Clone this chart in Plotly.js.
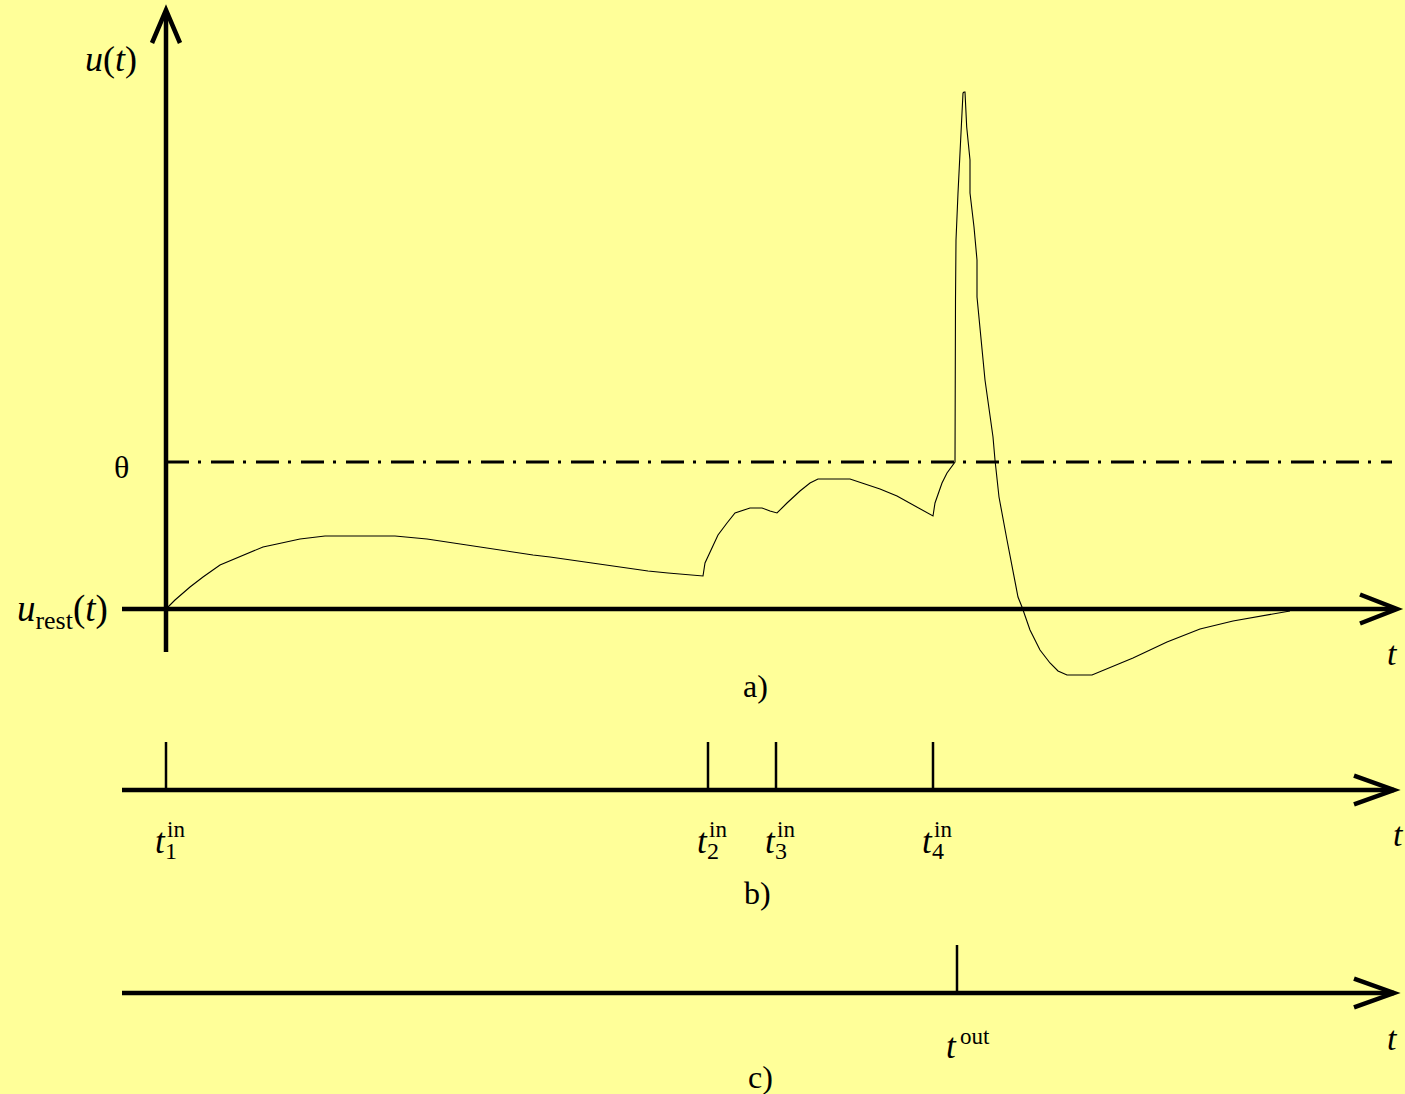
<!DOCTYPE html>
<html>
<head>
<meta charset="utf-8">
<script src="https://cdn.plot.ly/plotly-3.0.1.min.js"></script>
<style>html,body{margin:0;padding:0;background:#FFFF99;overflow:hidden;}</style>
</head>
<body>
<div id="chart" style="width:1405px;height:1094px;"></div>
<script>
// ---- data (time in ms after first input spike, potential relative to rest) ----
const traceT = [0, 0.9, 2.4, 3.7, 5.4, 7.1, 8.4, 9.7, 11.1, 13.4, 15.9, 22.9, 26.1, 28.7, 30.7, 32.9, 34.7, 36.7, 38.4, 40.4, 42.4, 44.2, 46.2, 48.2, 50.2, 52.4, 53.7,
  53.9, 54.6, 55.2, 56.1, 56.9, 58.4, 59.6, 60.4, 61.1, 62.1, 63.4, 64.4, 65.2, 68.4, 69.7, 71.4, 73.1, 74.7, 76.1, 76.7,
  76.9, 77.6, 78.1, 78.9, 78.95, 79.0, 79.2, 79.5, 79.7, 79.8, 79.9, 80.07, 80.4, 80.4, 80.8, 81.1, 81.1, 81.9, 82.7, 82.9, 83.3, 84.1, 84.6, 85.2, 85.6,
  86.4, 87.4, 88.4, 89.2, 90.1, 92.6, 96.7, 100.1, 103.4, 106.7, 110.1, 112.4];
const traceU = [0, 0.9, 2.2, 3.2, 4.4, 5.1, 5.6, 6.2, 6.5, 7.0, 7.3, 7.3, 7.0, 6.6, 6.3, 6.0, 5.7, 5.4, 5.2, 4.9, 4.6, 4.4, 4.1, 3.8, 3.6, 3.4, 3.3,
  4.6, 6.1, 7.4, 8.6, 9.6, 10.1, 10.1, 9.8, 9.6, 10.6, 11.8, 12.6, 13.0, 13.0, 12.6, 12.0, 11.3, 10.4, 9.6, 9.3,
  10.6, 12.6, 13.6, 14.7, 30.9, 36.9, 41.6, 48.2, 51.6, 51.7, 51.7, 48.2, 44.9, 41.6, 38.2, 34.9, 31.2, 22.9, 17.2, 14.9, 11.2, 6.9, 4.2, 1.2, 0.2,
  -2.1, -4.1, -5.4, -6.2, -6.6, -6.6, -4.9, -3.3, -2.0, -1.2, -0.6, -0.2];
const theta = 14.7;
const inputSpikes = [0, 54.2, 61.0, 76.7];
const inputIndex = ['1', '2', '3', '4'];
const outputSpikes = [79.1];

// ---- geometry helpers (page pixels -> paper) ----
const W = 1405, H = 1094;
const PX = x => x / W;
const PY = y => 1 - y / H;
const FONT = 'Liberation Serif, DejaVu Serif, serif';
const BLACK = '#000000';

function spikeXY(times) {
  const x = [], y = [];
  times.forEach(t => { x.push(t, t, null); y.push(0, 1, null); });
  return {x, y};
}

const sIn = spikeXY(inputSpikes);
const sOut = spikeXY(outputSpikes);

const traces = [
  {x: traceT, y: traceU, type: 'scatter', mode: 'lines', xaxis: 'x', yaxis: 'y',
   line: {color: BLACK, width: 1.1}, hoverinfo: 'skip', showlegend: false},
  {x: [0, 122.6], y: [theta, theta], type: 'scatter', mode: 'lines', xaxis: 'x', yaxis: 'y',
   line: {color: BLACK, width: 3, dash: '23px,9px,3px,10px'}, hoverinfo: 'skip', showlegend: false},
  {x: sIn.x, y: sIn.y, type: 'scatter', mode: 'lines', xaxis: 'x', yaxis: 'y2',
   line: {color: BLACK, width: 2.5}, hoverinfo: 'skip', showlegend: false},
  {x: sOut.x, y: sOut.y, type: 'scatter', mode: 'lines', xaxis: 'x', yaxis: 'y3',
   line: {color: BLACK, width: 2.5}, hoverinfo: 'skip', showlegend: false}
];

// axis lines and open arrowheads
const axW = 4.5;
const shapes = [
  {type: 'line', xref: 'x', yref: 'y', x0: -4.4, x1: 123.0, y0: 0, y1: 0, line: {color: BLACK, width: axW}},
  {type: 'path', xref: 'x', yref: 'y', path: 'M119.4,1.45 L123.1,0 L119.4,-1.45', line: {color: BLACK, width: axW}},
  {type: 'line', xref: 'x', yref: 'y', x0: 0, x1: 0, y0: -4.3, y1: 59.8, line: {color: BLACK, width: axW}},
  {type: 'path', xref: 'x', yref: 'y', path: 'M-1.4,56.6 L0,59.9 L1.4,56.6', line: {color: BLACK, width: axW}},
  {type: 'line', xref: 'x', yref: 'y2', x0: -4.4, x1: 122.8, y0: 0, y1: 0, line: {color: BLACK, width: axW}},
  {type: 'path', xref: 'x', yref: 'y2', path: 'M118.8,0.3 L122.8,0 L118.8,-0.3', line: {color: BLACK, width: axW}},
  {type: 'line', xref: 'x', yref: 'y3', x0: -4.4, x1: 122.8, y0: 0, y1: 0, line: {color: BLACK, width: axW}},
  {type: 'path', xref: 'x', yref: 'y3', path: 'M118.8,0.3 L122.8,0 L118.8,-0.3', line: {color: BLACK, width: axW}}
];

function txt(text, px, py, size, anchor) {
  return {text: text, xref: 'paper', yref: 'paper', x: PX(px), y: PY(py), showarrow: false,
    xanchor: anchor || 'center', yanchor: 'middle', font: {family: FONT, size: size, color: BLACK}};
}

const annotations = [
  txt('<i>u</i>(<i>t</i>)', 111, 59, 36),
  txt('θ', 121, 467, 32),
  txt('<i>u</i><sub>rest</sub>(<i>t</i>)', 62, 611, 37),
  txt('<i>t</i>', 1392, 653, 34),
  txt('a)', 755, 686, 32),
  txt('<i>t</i>', 1398, 834, 34),
  txt('b)', 757, 893, 32),
  txt('<i>t</i>', 1392, 1038, 34),
  txt('c)', 760, 1077, 32)
];

inputSpikes.forEach((t, i) => {
  annotations.push({text: '<i>t</i>', xref: 'x', yref: 'paper', x: t, xshift: -6, y: PY(841), showarrow: false,
    xanchor: 'center', yanchor: 'middle', font: {family: FONT, size: 35, color: BLACK}});
  annotations.push({text: 'in', xref: 'x', yref: 'paper', x: t, xshift: -1, y: PY(829), showarrow: false,
    xanchor: 'left', yanchor: 'middle', font: {family: FONT, size: 23, color: BLACK}});
  annotations.push({text: inputIndex[i], xref: 'x', yref: 'paper', x: t, xshift: -3, y: PY(851), showarrow: false,
    xanchor: 'left', yanchor: 'middle', font: {family: FONT, size: 24, color: BLACK}});
});
outputSpikes.forEach(t => {
  annotations.push({text: '<i>t</i>', xref: 'x', yref: 'paper', x: t, xshift: -6, y: PY(1046), showarrow: false,
    xanchor: 'center', yanchor: 'middle', font: {family: FONT, size: 35, color: BLACK}});
  annotations.push({text: 'out', xref: 'x', yref: 'paper', x: t, xshift: 1, y: PY(1036), showarrow: false,
    xanchor: 'left', yanchor: 'middle', font: {family: FONT, size: 23, color: BLACK}});
});

const hidden = {visible: false, showgrid: false, zeroline: false, fixedrange: true};

const layout = {
  width: W, height: H, autosize: false,
  margin: {l: 0, r: 0, t: 0, b: 0, pad: 0},
  paper_bgcolor: '#FFFF99', plot_bgcolor: '#FFFF99',
  showlegend: false,
  xaxis: Object.assign({range: [-16.6, 123.9], domain: [0, 1]}, hidden),
  yaxis: Object.assign({range: [-9.1, 60.9], domain: [PY(700), 1]}, hidden),
  yaxis2: Object.assign({range: [-(905 - 790) / 48, (790 - 715) / 48], domain: [PY(905), PY(715)], anchor: 'x'}, hidden),
  yaxis3: Object.assign({range: [-(1094 - 993) / 48, (993 - 915) / 48], domain: [0, PY(915)], anchor: 'x'}, hidden),
  shapes: shapes,
  annotations: annotations
};

Plotly.newPlot('chart', traces, layout, {staticPlot: true, displayModeBar: false});
</script>
</body>
</html>
